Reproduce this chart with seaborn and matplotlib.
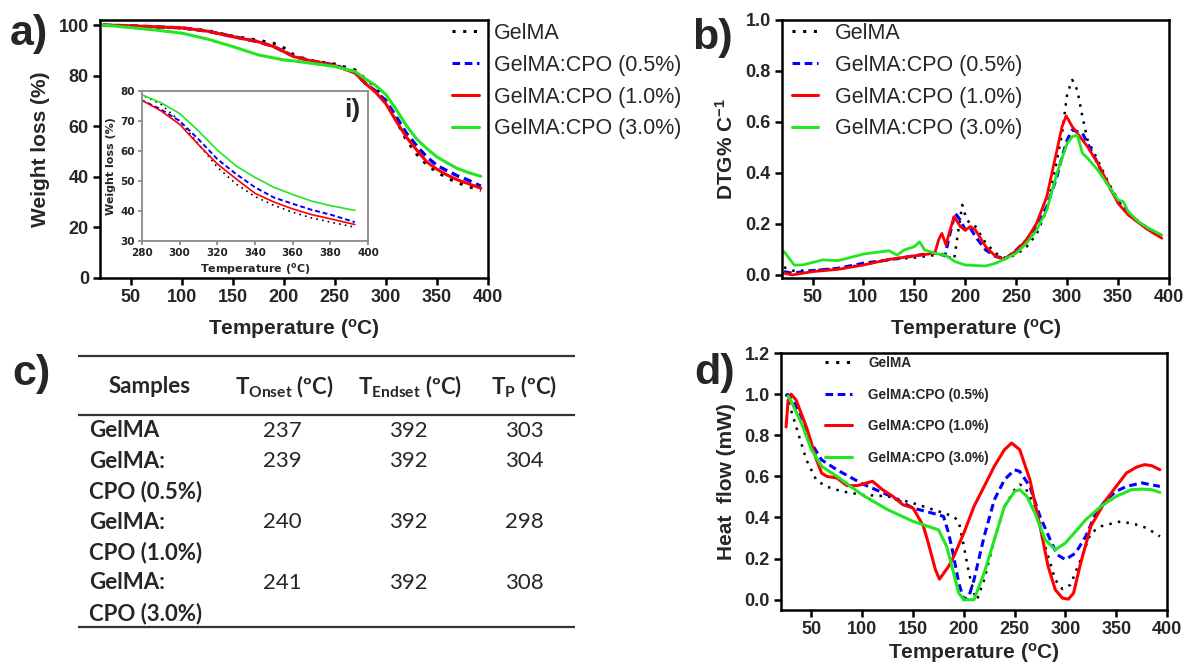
import numpy as np
import pandas as pd
import seaborn as sns
import matplotlib.pyplot as plt
from matplotlib.lines import Line2D

sns.set_style("ticks")
plt.rcParams['font.family'] = ['Liberation Sans', 'DejaVu Sans']

labels = ["GelMA", "GelMA:CPO (0.5%)", "GelMA:CPO (1.0%)", "GelMA:CPO (3.0%)"]
colors = ["black", "#0000FF", "#FF0000", "#22E622"]
styles = [(0, (1, 2.5)), (0, (2.5, 1.5)), "-", "-"]

# a) TGA weight loss
T_tga = [23, 50, 75, 100, 125, 150, 175, 190, 200, 210, 225, 250, 270, 280, 290,
         300, 310, 320, 330, 340, 350, 360, 370, 380, 393]
w_gel = [100, 99.6, 99.2, 98.8, 97.8, 95.6, 94.0, 92.8, 91.0, 88.2, 86.0, 84.6, 82.2, 78.7, 75.6,
         70.0, 62.3, 54.6, 49.0, 44.8, 41.9, 39.6, 37.7, 36.3, 34.6]
w_05 = [100, 99.7, 99.3, 98.9, 97.6, 95.5, 93.4, 91.5, 89.6, 87.6, 86.0, 84.2, 81.2, 76.9, 73.9,
        70.0, 63.9, 57.3, 52.3, 47.9, 44.5, 42.4, 40.4, 38.8, 36.3]
w_10 = [100, 99.7, 99.3, 98.9, 97.6, 95.4, 93.4, 91.5, 89.5, 87.5, 86.0, 84.0, 81.0, 76.9, 73.4,
        68.9, 62.1, 55.7, 50.7, 45.9, 43.0, 40.7, 38.8, 37.4, 35.5]
w_30 = [100, 99.0, 98.0, 96.8, 94.5, 91.5, 88.2, 87.0, 86.2, 85.8, 85.0, 83.6, 81.6, 78.7, 76.1,
        72.5, 66.7, 60.3, 55.0, 51.2, 47.9, 45.5, 43.3, 41.8, 40.2]

# b) DTG
Tb_gel = [22, 30, 50, 75, 100, 125, 150, 175, 185, 189, 193, 197, 201, 205, 210, 220, 230, 240,
          250, 260, 270, 280, 290, 295, 300, 305, 310, 315, 320, 330, 340, 350, 360, 370, 380, 393]
db_gel = [0.03, 0.017, 0.017, 0.026, 0.04, 0.06, 0.068, 0.08, 0.068, 0.06, 0.17, 0.275, 0.22, 0.2,
          0.19, 0.125, 0.085, 0.065, 0.08, 0.11, 0.16, 0.255, 0.45, 0.555, 0.71, 0.765, 0.725, 0.62,
          0.53, 0.45, 0.366, 0.294, 0.242, 0.209, 0.183, 0.15]
Tb_05 = [22, 30, 50, 75, 100, 125, 150, 165, 175, 180, 185, 190, 195, 200, 205, 210, 220, 230, 240,
         250, 260, 270, 280, 290, 295, 300, 305, 310, 315, 320, 330, 340, 350, 360, 370, 380, 393]
db_05 = [0.013, 0.007, 0.017, 0.026, 0.046, 0.059, 0.075, 0.085, 0.085, 0.075, 0.163, 0.242, 0.216,
         0.176, 0.183, 0.15, 0.098, 0.072, 0.065, 0.098, 0.137, 0.19, 0.268, 0.386, 0.464, 0.529,
         0.569, 0.562, 0.556, 0.516, 0.438, 0.353, 0.288, 0.242, 0.209, 0.176, 0.148]
Tb_10 = [22, 30, 50, 75, 100, 125, 150, 170, 174, 177, 181, 185, 189, 195, 200, 205, 210, 220, 230,
         238, 250, 260, 270, 280, 290, 295, 299, 305, 310, 320, 330, 340, 350, 360, 370, 380, 393]
db_10 = [0.007, 0.0, 0.013, 0.022, 0.039, 0.061, 0.075, 0.085, 0.14, 0.163, 0.118, 0.176, 0.229,
         0.19, 0.176, 0.19, 0.176, 0.111, 0.072, 0.061, 0.095, 0.137, 0.203, 0.307, 0.49, 0.582,
         0.624, 0.582, 0.556, 0.503, 0.438, 0.36, 0.281, 0.235, 0.205, 0.176, 0.144]
Tb_30 = [22, 27, 32, 40, 60, 75, 100, 125, 133, 140, 150, 155, 160, 170, 180, 190, 200, 220, 230,
         240, 250, 260, 270, 280, 290, 300, 305, 310, 315, 320, 330, 340, 350, 355, 360, 370, 380, 393]
db_30 = [0.092, 0.065, 0.039, 0.039, 0.059, 0.056, 0.082, 0.095, 0.078, 0.098, 0.111, 0.13, 0.098,
         0.085, 0.078, 0.052, 0.039, 0.035, 0.046, 0.065, 0.085, 0.124, 0.176, 0.255, 0.399, 0.516,
         0.542, 0.549, 0.477, 0.458, 0.412, 0.353, 0.294, 0.288, 0.248, 0.209, 0.183, 0.157]

# c) table
sample_lines = [["GelMA"], ["GelMA:", "CPO (0.5%)"], ["GelMA:", "CPO (1.0%)"], ["GelMA:", "CPO (3.0%)"]]
t_onset = [237, 239, 240, 241]
t_endset = [392, 392, 392, 392]
t_peak = [303, 304, 298, 308]

# d) DSC heat flow
Td_gel = [25, 35, 45, 55, 65, 80, 100, 125, 150, 175, 190, 195, 200, 205, 210, 213, 220, 230, 240,
          250, 255, 260, 270, 280, 290, 297, 305, 315, 325, 335, 350, 355, 370, 380, 393]
hd_gel = [1.0, 0.84, 0.68, 0.58, 0.55, 0.527, 0.51, 0.503, 0.47, 0.43, 0.405, 0.38, 0.26, 0.13,
          0.032, 0.0, 0.097, 0.29, 0.454, 0.535, 0.56, 0.55, 0.454, 0.26, 0.097, 0.052, 0.073,
          0.195, 0.324, 0.357, 0.376, 0.381, 0.365, 0.349, 0.308]
Td_05 = [25, 30, 40, 50, 60, 75, 100, 125, 150, 175, 180, 185, 190, 195, 200, 205, 210, 220, 230,
         240, 250, 255, 265, 275, 285, 292, 300, 310, 320, 330, 340, 350, 360, 375, 393]
hd_05 = [1.0, 0.99, 0.89, 0.76, 0.68, 0.632, 0.564, 0.51, 0.446, 0.413, 0.405, 0.324, 0.21, 0.081,
         0.0, 0.016, 0.097, 0.308, 0.486, 0.584, 0.632, 0.624, 0.551, 0.405, 0.292, 0.219, 0.195,
         0.227, 0.308, 0.421, 0.486, 0.527, 0.551, 0.568, 0.551]
Td_10 = [25, 27, 30, 35, 45, 55, 60, 65, 75, 85, 95, 110, 120, 130, 140, 150, 160, 165, 172, 176,
         185, 190, 200, 210, 220, 230, 240, 247, 255, 265, 275, 283, 290, 297, 303, 308, 315, 325,
         340, 350, 360, 370, 378, 385, 393]
hd_10 = [0.84, 0.97, 1.0, 0.97, 0.84, 0.68, 0.616, 0.6, 0.592, 0.555, 0.555, 0.576, 0.535, 0.503,
         0.462, 0.446, 0.36, 0.276, 0.146, 0.1, 0.162, 0.21, 0.324, 0.454, 0.551, 0.649, 0.73,
         0.762, 0.73, 0.584, 0.357, 0.162, 0.049, 0.008, 0.003, 0.032, 0.178, 0.357, 0.486, 0.551,
         0.616, 0.645, 0.657, 0.652, 0.632]
Td_30 = [27, 30, 40, 50, 60, 75, 100, 125, 150, 175, 183, 190, 195, 200, 210, 220, 230, 240, 250,
         255, 262, 270, 280, 290, 300, 310, 320, 335, 350, 365, 375, 385, 393]
hd_30 = [0.99, 0.965, 0.86, 0.73, 0.649, 0.6, 0.51, 0.438, 0.381, 0.34, 0.26, 0.13, 0.032, 0.0,
         0.0, 0.13, 0.292, 0.454, 0.527, 0.535, 0.503, 0.421, 0.292, 0.243, 0.276, 0.332, 0.389,
         0.454, 0.503, 0.535, 0.538, 0.535, 0.522]

W, H = 1193, 672
fig = plt.figure(figsize=(W / 100, H / 100), dpi=100)


def box(l, t, r, b):
    return [l / W, 1 - b / H, (r - l) / W, (b - t) / H]


def draw(ax, xs, ys, lws):
    for x, y, c, ls, lw in zip(xs, ys, colors, styles, lws):
        sns.lineplot(x=x, y=y, ax=ax, color=c, linestyle=ls, lw=lw,
                     sort=False, estimator=None, legend=False)


def style(ax, lw=1.8, size=13, color="black"):
    for s in ax.spines.values():
        s.set_visible(True)
        s.set_linewidth(lw)
        s.set_color(color)
    ax.tick_params(direction="out", length=5, width=lw, labelsize=size, pad=3, color=color)
    for lab in ax.get_xticklabels() + ax.get_yticklabels():
        lab.set_fontweight("bold")


def handles(lw):
    return [Line2D([], [], color=c, linestyle=ls, lw=lw) for c, ls in zip(colors, styles)]


deg = r"Temperature ($\mathregular{^{o}}$C)"

# ---- a)
ax_a = fig.add_axes(box(100, 20, 488, 278))
draw(ax_a, [T_tga] * 4, [w_gel, w_05, w_10, w_30], [2.2, 2.4, 2.2, 2.2])
ax_a.set_xlim(20, 400)
ax_a.set_ylim(0, 102)
ax_a.set_xticks(range(50, 401, 50))
ax_a.set_yticks(range(0, 101, 20))
style(ax_a)
ax_a.set_xlabel(deg, fontsize=15, fontweight="bold", labelpad=8)
ax_a.set_ylabel("Weight loss (%)", fontsize=15, fontweight="bold", labelpad=6)
ax_a.legend(handles(2.2), labels, loc="upper left", bbox_to_anchor=(452 / W, 1 - 23 / H),
            bbox_transform=fig.transFigure, frameon=False, fontsize=15.5, handlelength=1.25,
            handletextpad=0.7, labelspacing=0.5, borderpad=0, borderaxespad=0)

ax_i = fig.add_axes(box(142, 91, 368, 241))
draw(ax_i, [T_tga] * 4, [w_gel, w_05, w_10, w_30], [1.2, 1.4, 1.2, 1.2])
ax_i.set_xlim(280, 400)
ax_i.set_ylim(30, 80)
ax_i.set_xticks(range(280, 401, 20))
ax_i.set_yticks(range(30, 81, 10))
style(ax_i, lw=1.3, size=7.5, color="#8a8a8a")
for lab in ax_i.get_xticklabels() + ax_i.get_yticklabels():
    lab.set_family("DejaVu Sans")
    lab.set_color("#222222")
ax_i.tick_params(length=3, pad=2)
ax_i.set_xlabel(deg, fontsize=8, fontweight="bold", family="DejaVu Sans", labelpad=2)
ax_i.set_ylabel("Weight loss (%)", fontsize=8, fontweight="bold", family="DejaVu Sans", labelpad=3)
ax_i.text(0.93, 0.87, "i)", transform=ax_i.transAxes, fontsize=19, fontweight="bold",
          ha="center", va="center")

# ---- b)
ax_b = fig.add_axes(box(782, 20, 1169, 278))
draw(ax_b, [Tb_gel, Tb_05, Tb_10, Tb_30], [db_gel, db_05, db_10, db_30], [1.8, 2.2, 2.0, 2.0])
ax_b.set_xlim(20, 400)
ax_b.set_ylim(-0.012, 1.0)
ax_b.set_xticks(range(50, 401, 50))
ax_b.set_yticks(np.arange(0, 1.01, 0.2))
ax_b.set_yticklabels([f"{v:.1f}" for v in np.arange(0, 1.01, 0.2)])
style(ax_b)
ax_b.set_xlabel(deg, fontsize=15, fontweight="bold", labelpad=8)
ax_b.set_ylabel(r"DTG% C$\mathregular{^{-1}}$", fontsize=15, fontweight="bold", labelpad=6)
ax_b.legend(handles(2.2), labels, loc="upper left", bbox_to_anchor=(792 / W, 1 - 23 / H),
            bbox_transform=fig.transFigure, frameon=False, fontsize=15.5, handlelength=1.21,
            handletextpad=0.79, labelspacing=0.5, borderpad=0, borderaxespad=0)

# ---- c) table
ax_c = fig.add_axes([0, 0, 600 / W, 332 / H])
ax_c.set_xlim(0, 600)
ax_c.set_ylim(672, 340)
ax_c.axis("off")
tfont = dict(family=["Lato", "DejaVu Sans"], fontsize=16)
for y in (356, 415, 627):
    ax_c.hlines(y, 78, 575, color="#333333", lw=1.6)
ax_c.text(150, 387, "Samples", ha="center", va="center", fontweight="bold", **tfont)
ax_c.text(284, 387, r"T$\mathregular{_{Onset}}$ (ºC)", ha="center", va="center", fontweight="bold", **tfont)
ax_c.text(410, 387, r"T$\mathregular{_{Endset}}$ (ºC)", ha="center", va="center", fontweight="bold", **tfont)
ax_c.text(524, 387, r"T$\mathregular{_{P}}$ (ºC)", ha="center", va="center", fontweight="bold", **tfont)
line = 0
for names, on, en, tp in zip(sample_lines, t_onset, t_endset, t_peak):
    y0 = 431 + 30.4 * line
    for k, name in enumerate(names):
        ax_c.text(89, y0 + 30.4 * k, name, ha="left", va="center", fontweight="bold", **tfont)
    ax_c.text(282, y0, str(on), ha="center", va="center", **tfont)
    ax_c.text(408, y0, str(en), ha="center", va="center", **tfont)
    ax_c.text(524, y0, str(tp), ha="center", va="center", **tfont)
    line += len(names)

# ---- d)
ax_d = fig.add_axes(box(781, 353, 1167, 610))
draw(ax_d, [Td_gel, Td_05, Td_10, Td_30], [hd_gel, hd_05, hd_10, hd_30], [1.8, 2.2, 2.2, 2.2])
ax_d.set_xlim(20, 400)
ax_d.set_ylim(-0.05, 1.2)
ax_d.set_xticks(range(50, 401, 50))
ax_d.set_yticks(np.arange(0, 1.21, 0.2))
ax_d.set_yticklabels([f"{v:.1f}" for v in np.arange(0, 1.21, 0.2)])
style(ax_d)
ax_d.set_xlabel(deg, fontsize=15, fontweight="bold", labelpad=2)
ax_d.set_ylabel("Heat  flow (mW)", fontsize=15, fontweight="bold", labelpad=6)
ax_d.legend(handles(2.2), labels, loc="upper left", bbox_to_anchor=(825 / W, 1 - 356 / H),
            bbox_transform=fig.transFigure, frameon=False, prop=dict(size=9.8, weight="bold"),
            handlelength=1.99, handletextpad=1.18, labelspacing=1.29, borderpad=0,
            borderaxespad=0)

# panel letters
for txt, x, y in [("a)", 10, 34), ("b)", 692, 38), ("c)", 12, 374), ("d)", 694, 373)]:
    fig.text(x / W, 1 - y / H, txt, fontsize=31, fontweight="bold", ha="left", va="center")

fig.savefig("out.png", dpi=100)
